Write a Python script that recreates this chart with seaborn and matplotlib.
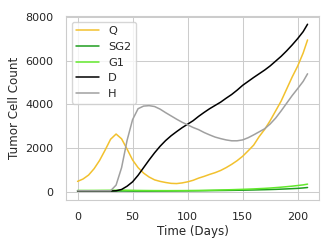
import numpy as np
import pandas as pd
import seaborn as sns
import matplotlib
matplotlib.use("Agg")
import matplotlib.pyplot as plt

time = [0, 5, 10, 15, 20, 25, 30, 35, 40, 45, 50, 55, 60, 65, 70, 75, 80, 85, 90, 95,
        100, 105, 110, 115, 120, 125, 130, 135, 140, 145, 150, 155, 160, 165, 170, 175,
        180, 185, 190, 195, 200, 205, 209]

q_vals = [470, 580, 760, 1050, 1430, 1900, 2400, 2640, 2420, 1950, 1450, 1100, 850, 670,
          540, 470, 420, 380, 370, 400, 450, 520, 620, 700, 790, 870, 970, 1100, 1250,
          1420, 1620, 1870, 2130, 2520, 2850, 3250, 3700, 4150, 4700, 5250, 5750, 6350, 6950]

sg2_vals = [20, 22, 24, 25, 26, 27, 28, 30, 30, 28, 26, 25, 25, 25, 26, 27, 28, 30, 32, 34,
            36, 38, 40, 43, 46, 50, 53, 56, 60, 64, 68, 73, 78, 84, 90, 97, 105, 115, 126,
            138, 150, 170, 190]

g1_vals = [55, 55, 55, 56, 58, 60, 62, 65, 70, 65, 60, 55, 52, 50, 48, 47, 46, 46, 47, 48,
           50, 53, 56, 60, 65, 70, 76, 83, 90, 98, 106, 115, 125, 138, 150, 166, 185, 205,
           228, 252, 280, 310, 345]

d_vals = [30, 30, 30, 30, 30, 30, 30, 40, 100, 250, 450, 750, 1100, 1450, 1780, 2080, 2340,
          2560, 2750, 2930, 3090, 3250, 3450, 3630, 3800, 3950, 4100, 4280, 4450, 4650,
          4870, 5050, 5230, 5400, 5570, 5760, 5980, 6200, 6450, 6720, 7010, 7330, 7670]

h_vals = [40, 40, 40, 40, 40, 40, 40, 300, 1100, 2350, 3300, 3800, 3920, 3940, 3900, 3780,
          3620, 3470, 3320, 3180, 3060, 2940, 2840, 2710, 2600, 2500, 2430, 2370, 2330,
          2330, 2370, 2470, 2600, 2740, 2880, 3100, 3370, 3700, 4050, 4400, 4720, 5050, 5400]

series_names = ["Q", "SG2", "G1", "D", "H"]
series_colors = ["#f2c12e", "#1f9e1f", "#62e82c", "#000000", "#a0a0a0"]

frames = []
for name, vals in zip(series_names, [q_vals, sg2_vals, g1_vals, d_vals, h_vals]):
    frames.append(pd.DataFrame({"Time": time, "Count": vals, "Type": name}))
df = pd.concat(frames, ignore_index=True)

sns.set_theme(style="whitegrid")
plt.rcParams["font.family"] = ["DejaVu Sans"]

fig = plt.figure(figsize=(3.32, 2.49), dpi=100)
ax = fig.add_axes([0.199, 0.197, 0.762, 0.739])

sns.lineplot(data=df, x="Time", y="Count", hue="Type", hue_order=series_names,
             palette=dict(zip(series_names, series_colors)), linewidth=1.1, ax=ax)

ax.set_xlim(-10.45, 219.45)
ax.set_ylim(-380, 8050)
ax.set_xticks([0, 50, 100, 150, 200])
ax.set_yticks([0, 2000, 4000, 6000, 8000])
ax.tick_params(labelsize=8, pad=3)
ax.set_xlabel("Time (Days)", fontsize=8.6, labelpad=2)
ax.set_ylabel("Tumor Cell Count", fontsize=8.6, labelpad=3)
for s in ax.spines.values():
    s.set_linewidth(0.8)
ax.grid(linewidth=0.75)

handles, labels = ax.get_legend_handles_labels()
ax.legend(handles, labels, loc="upper left", fontsize=8.2, frameon=True, borderaxespad=0.5)

fig.savefig("out.png", dpi=100)
